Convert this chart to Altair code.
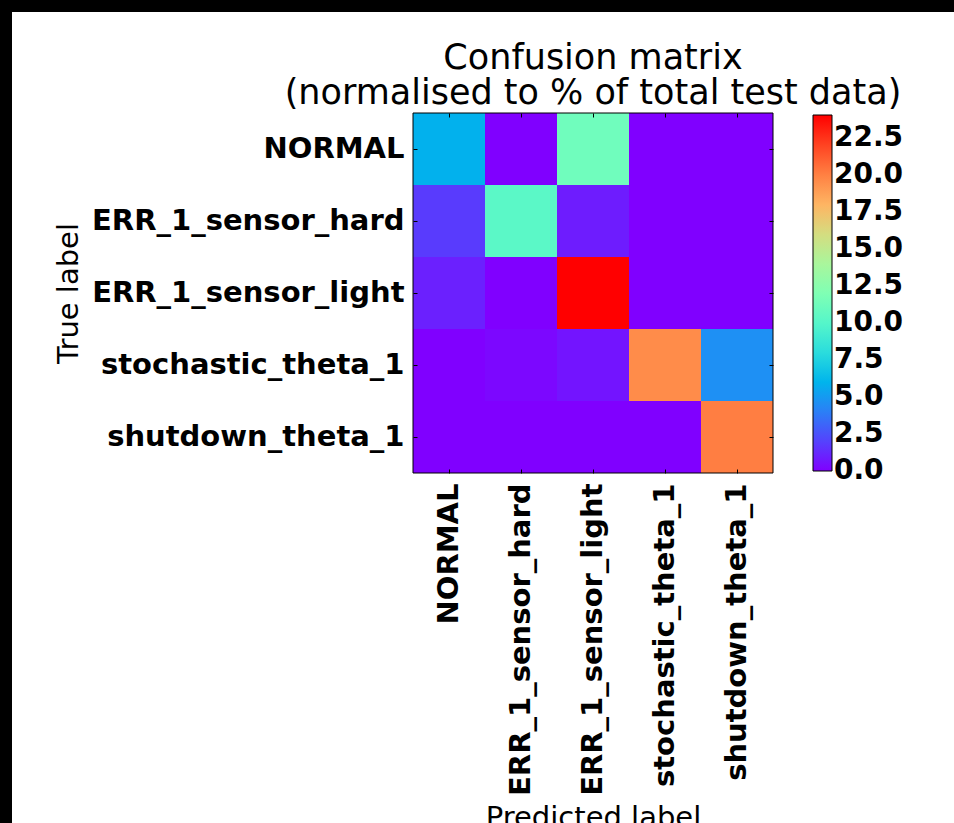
import altair as alt
import numpy as np
import pandas as pd

classes = ["NORMAL", "ERR_1_sensor_hard", "ERR_1_sensor_light",
           "stochastic_theta_1", "shutdown_theta_1"]

# rows = true label, columns = predicted label (% of total test data)
row_normal = [5.9, 0.0, 11.3, 0.0, 0.0]
row_err_hard = [1.8, 10.3, 0.85, 0.0, 0.0]
row_err_light = [0.95, 0.0, 24.07, 0.0, 0.0]
row_stochastic = [0.0, 0.2, 0.6, 19.6, 4.6]
row_shutdown = [0.0, 0.0, 0.0, 0.0, 20.1]

colorbar_ticks = [0.0, 2.5, 5.0, 7.5, 10.0, 12.5, 15.0, 17.5, 20.0, 22.5]

rows = [row_normal, row_err_hard, row_err_light, row_stochastic, row_shutdown]
records = []
for t, vals in zip(classes, rows):
    for p, v in zip(classes, vals):
        records.append({"True": t, "Predicted": p, "value": v})
df = pd.DataFrame(records)
vmax = float(df["value"].max())
vmin = -0.0001  # tiny margin so the 0.0 label is centred on its tick like the others

# matplotlib "rainbow" colormap stops
xs = np.linspace(0, 1, 21)
r = np.clip(np.abs(2 * xs - 0.5), 0, 1)
g = np.clip(np.sin(np.pi * xs), 0, 1)
b = np.clip(np.cos(np.pi * xs / 2), 0, 1)
cmap = ["#%02x%02x%02x" % (int(round(a * 255)), int(round(c * 255)), int(round(d * 255)))
        for a, c, d in zip(r, g, b)]
cdomain = [float(vmin + x * (vmax - vmin)) for x in xs]

FONT = "DejaVu Sans"
W = 360
H = 360
PL, PT = 413, 113

one = alt.Data(values=[{"k": 1}])

background = alt.Chart(one).mark_rect(color="white").encode(
    x=alt.value(12 - PL), x2=alt.value(954 - PL),
    y=alt.value(12 - PT), y2=alt.value(823 - PT)
)

heat = alt.Chart(df).mark_rect().encode(
    x=alt.X("Predicted:N", sort=classes, title="Predicted label",
            axis=alt.Axis(orient="bottom", labelAngle=270, labelPadding=10,
                          titlePadding=8, offset=-4, tickSize=4, domain=False,
                          zindex=1)),
    y=alt.Y("True:N", sort=classes, title="True label",
            axis=alt.Axis(orient="left", labelPadding=9, titlePadding=8,
                          offset=-4, tickSize=4, domain=False, zindex=1)),
    color=alt.Color("value:Q",
                    scale=alt.Scale(type="linear", domain=cdomain, range=cmap,
                                    interpolate="rgb"),
                    legend=alt.Legend(type="gradient", orient="none",
                                      legendX=813 - PL, legendY=115 - PT,
                                      direction="vertical",
                                      gradientLength=356, gradientThickness=19,
                                      values=colorbar_ticks, format=".1f",
                                      labelBaseline="middle", labelAlign="left",
                                      title=None)),
)

ticks_other = alt.Chart(df).mark_rect(opacity=0).encode(
    x=alt.X("Predicted:N", sort=classes,
            axis=alt.Axis(orient="top", labels=False, title=None, offset=-4,
                          tickSize=4, domain=False, zindex=1)),
    y=alt.Y("True:N", sort=classes,
            axis=alt.Axis(orient="right", labels=False, title=None, offset=-4,
                          tickSize=4, domain=False, zindex=1)),
)

frame = alt.Chart(one).mark_rect(fill=None, stroke="black", strokeWidth=1).encode(
    x=alt.value(0), x2=alt.value("width"), y=alt.value(0), y2=alt.value("height")
)

chart = alt.layer(background, heat, ticks_other, frame).resolve_axis(
    x="independent", y="independent"
).properties(
    width=W, height=H,
    title=alt.TitleParams(
        text=["Confusion matrix", "(normalised to % of total test data)"],
        fontSize=35, font=FONT, fontWeight="normal", color="black",
        anchor="middle", frame="group", offset=-127, lineHeight=35,
        baseline="alphabetic"),
    autosize=alt.AutoSizeParams(type="none"),
    padding={"left": PL, "top": PT, "right": 954 - PL - W, "bottom": 823 - PT - H},
    background="black",
).configure_axis(
    labelFont=FONT, labelFontWeight="bold", labelFontSize=29, labelColor="black",
    titleFont=FONT, titleFontWeight="normal", titleFontSize=29, titleColor="black",
    tickColor="black", tickWidth=1, grid=False, labelLimit=0, maxExtent=500,
).configure_legend(
    labelFont=FONT, labelFontWeight="bold", labelFontSize=28, labelColor="black",
    labelOffset=7, labelOverlap=False, padding=0,
    gradientStrokeColor="black", gradientStrokeWidth=1,
).configure_view(stroke=None)

chart.save("out.html", embed_options={"renderer": "svg", "actions": False})
